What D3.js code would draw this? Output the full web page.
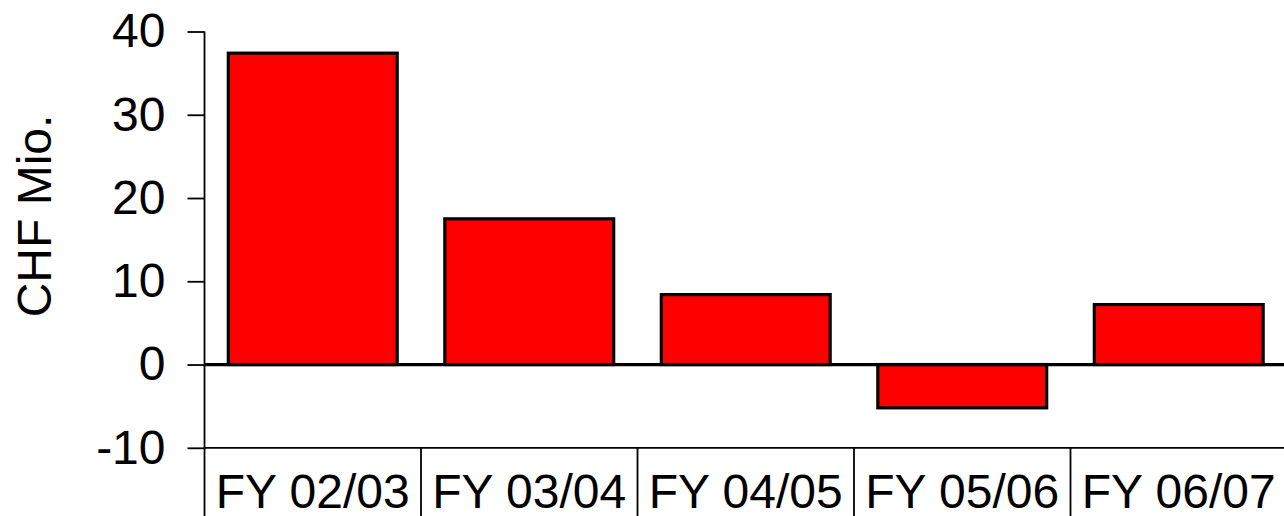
<!DOCTYPE html>
<html>
<head>
<meta charset="utf-8">
<script src="https://cdn.jsdelivr.net/npm/d3@7"></script>
<style>
  html, body { margin: 0; padding: 0; background: #fff; }
  svg { display: block; }
  text { font-family: "Liberation Sans", Arial, sans-serif; fill: #000; }
</style>
</head>
<body>
<svg id="chart" width="1284" height="516"></svg>
<script>
const categories = ["FY 02/03", "FY 03/04", "FY 04/05", "FY 05/06", "FY 06/07"];
const values = [37.4, 17.5, 8.4, -5.2, 7.2];
const yTicks = [-10, 0, 10, 20, 30, 40];
const yLabel = "CHF Mio.";

const svg = d3.select("#chart");
const left = 204.5, right = 1287;
const yTop = 31.5, yBottom = 447.8;

const x = d3.scaleBand().domain(categories).range([left, right])
  .paddingInner(0.22).paddingOuter(0.11);
const y = d3.scaleLinear().domain([-10, 40]).range([yBottom, yTop]);

// Y axis
const yAxis = d3.axisLeft(y).tickValues(yTicks).tickSize(17).tickPadding(22)
  .tickFormat(d => String(d));
const gy = svg.append("g").attr("transform", `translate(${left},0)`).call(yAxis);
gy.select(".domain").remove();
gy.selectAll(".tick line").attr("stroke", "#000").attr("stroke-width", 1.8);
gy.selectAll(".tick text").style("font-size", "48px")
  .style("font-family", '"Liberation Sans", Arial, sans-serif').attr("fill", "#000");

// vertical axis line (extends to bottom as first separator)
svg.append("line").attr("x1", left).attr("x2", left)
  .attr("y1", y(40)).attr("y2", 516)
  .attr("stroke", "#000").attr("stroke-width", 1.8);

// bottom axis line at -10
svg.append("line").attr("x1", left).attr("x2", right)
  .attr("y1", y(-10)).attr("y2", y(-10))
  .attr("stroke", "#000").attr("stroke-width", 1.8);

// category separators
const step = x.step();
categories.forEach((c, i) => {
  if (i === 0) return;
  const bx = x(c) - step * x.paddingInner() / 2;
  svg.append("line").attr("x1", bx).attr("x2", bx)
    .attr("y1", y(-10)).attr("y2", 516)
    .attr("stroke", "#000").attr("stroke-width", 1.8);
});

// bars
svg.append("g").selectAll("rect").data(values).join("rect")
  .attr("x", (d, i) => x(categories[i]))
  .attr("width", x.bandwidth())
  .attr("y", d => y(Math.max(0, d)))
  .attr("height", d => Math.abs(y(d) - y(0)))
  .attr("fill", "#FF0000")
  .attr("stroke", "#000")
  .attr("stroke-width", 3.2);

// zero line
svg.append("line").attr("x1", left).attr("x2", right)
  .attr("y1", y(0)).attr("y2", y(0))
  .attr("stroke", "#000").attr("stroke-width", 3.2);

// category labels
svg.append("g").selectAll("text").data(categories).join("text")
  .attr("x", d => x(d) + x.bandwidth() / 2)
  .attr("y", 508)
  .attr("text-anchor", "middle")
  .style("font-size", "48px")
  .text(d => d);

// y label
svg.append("text")
  .attr("transform", `translate(51,216) rotate(-90)`)
  .attr("text-anchor", "middle")
  .style("font-size", "48px")
  .text(yLabel);
</script>
</body>
</html>
